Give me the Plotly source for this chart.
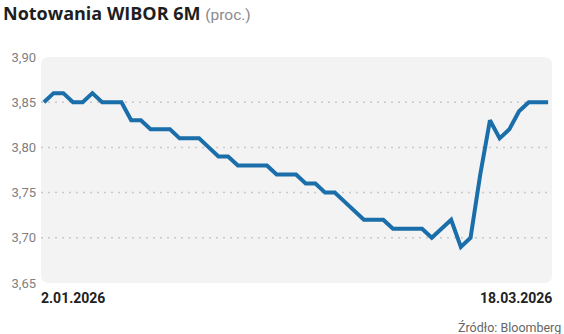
import plotly.graph_objects as go

dates = ["2.01.2026", "5.01.2026", "7.01.2026", "8.01.2026", "9.01.2026",
         "12.01.2026", "13.01.2026", "14.01.2026", "15.01.2026", "16.01.2026",
         "19.01.2026", "20.01.2026", "21.01.2026", "22.01.2026", "23.01.2026",
         "26.01.2026", "27.01.2026", "28.01.2026", "29.01.2026", "30.01.2026",
         "2.02.2026", "3.02.2026", "4.02.2026", "5.02.2026", "6.02.2026",
         "9.02.2026", "10.02.2026", "11.02.2026", "12.02.2026", "13.02.2026",
         "16.02.2026", "17.02.2026", "18.02.2026", "19.02.2026", "20.02.2026",
         "23.02.2026", "24.02.2026", "25.02.2026", "26.02.2026", "27.02.2026",
         "2.03.2026", "3.03.2026", "4.03.2026", "5.03.2026", "6.03.2026",
         "9.03.2026", "10.03.2026", "11.03.2026", "12.03.2026", "13.03.2026",
         "16.03.2026", "17.03.2026", "18.03.2026"]

wibor = [3.85, 3.86, 3.86, 3.85, 3.85, 3.86, 3.85, 3.85, 3.85, 3.83,
         3.83, 3.82, 3.82, 3.82, 3.81, 3.81, 3.81, 3.80, 3.79, 3.79,
         3.78, 3.78, 3.78, 3.78, 3.77, 3.77, 3.77, 3.76, 3.76, 3.75,
         3.75, 3.74, 3.73, 3.72, 3.72, 3.72, 3.71, 3.71, 3.71, 3.71,
         3.70, 3.71, 3.72, 3.69, 3.70, 3.77, 3.83, 3.81, 3.82, 3.84,
         3.85, 3.85, 3.85]

y_ticks = [3.65, 3.70, 3.75, 3.80, 3.85, 3.90]
grid_vals = [3.70, 3.75, 3.80, 3.85]

title_main = "Notowania WIBOR 6M"
title_unit = "(proc.)"
source = "Źródło: Bloomberg"

FONT = "Roboto"
TFONT = "Open Sans"

fig = go.Figure()
fig.add_trace(go.Scatter(
    x=dates, y=wibor, mode="lines",
    line=dict(color="#1a6ea9", width=4, shape="linear"),
    hoverinfo="skip",
))

# rounded background panel
rx, ry = 8 / 515, 8 / 226
path = (f"M {rx},0 L {1-rx},0 Q 1,0 1,{ry} L 1,{1-ry} Q 1,1 {1-rx},1 "
        f"L {rx},1 Q 0,1 0,{1-ry} L 0,{ry} Q 0,0 {rx},0 Z")
shapes = [dict(type="path", path=path, xref="paper", yref="paper",
               fillcolor="#f3f3f3", line=dict(width=0), layer="below")]
for g in grid_vals:
    shapes.append(dict(type="line", xref="paper", yref="y", x0=0, x1=1, y0=g, y1=g,
                       line=dict(color="#c9c9c9", width=1.5, dash="2px,5px"),
                       layer="below"))

annotations = [
    dict(text=f"<b>{dates[0]}</b>", xref="paper", yref="paper", x=0.0, y=0,
         xanchor="left", yanchor="top", yshift=-5, xshift=-2, showarrow=False,
         font=dict(family=FONT, size=14, color="#222222")),
    dict(text=f"<b>{dates[-1]}</b>", xref="paper", yref="paper", x=1.0, y=0,
         xanchor="right", yanchor="top", yshift=-5, xshift=2, showarrow=False,
         font=dict(family=FONT, size=14, color="#222222")),
    dict(text=source, xref="paper", yref="paper", x=1.021, y=0,
         xanchor="right", yanchor="top", yshift=-35, showarrow=False,
         font=dict(family=FONT, size=12.5, color="#666666")),
]

fig.update_layout(
    width=564, height=334,
    margin=dict(l=37, r=12, t=57, b=51),
    paper_bgcolor="white", plot_bgcolor="rgba(0,0,0,0)",
    separators=", ",
    showlegend=False,
    title=dict(
        text=f"<b>{title_main}</b> <span style='color:#8a8a8a;font-size:15.5px;font-family:Roboto'>{title_unit}</span>",
        x=3 / 564, xanchor="left", xref="container",
        y=1 - 14 / 334, yanchor="middle", yref="container",
        font=dict(family=TFONT, size=18, color="#1e1e1e"),
    ),
    xaxis=dict(type="category", range=[-0.3, len(dates) - 1 + 0.4],
               showgrid=False, showticklabels=False, zeroline=False,
               showline=False, ticks=""),
    yaxis=dict(range=[3.65, 3.90], tickvals=y_ticks, tickformat=".2f",
               showgrid=False, zeroline=False, showline=False, ticks="",
               ticklabelstandoff=4,
               tickfont=dict(family=FONT, size=13, color="#808080")),
    shapes=shapes,
    annotations=annotations,
)

fig.write_html("out.html")
